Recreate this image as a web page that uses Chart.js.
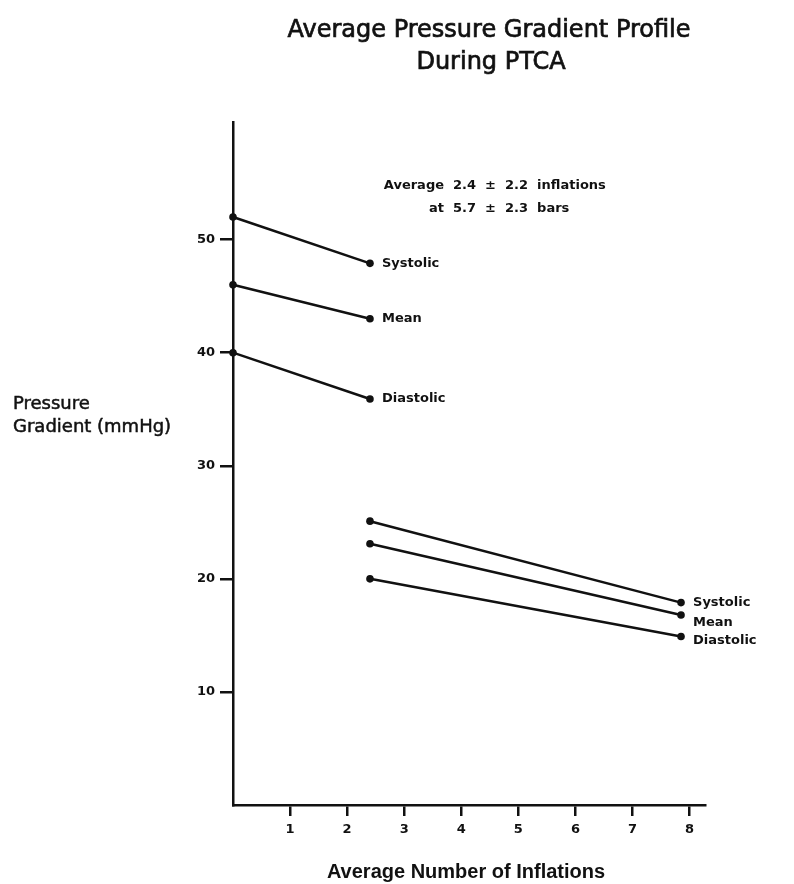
<!DOCTYPE html>
<html>
<head>
<meta charset="utf-8">
<script src="https://cdn.jsdelivr.net/npm/chart.js@4.4.1/dist/chart.umd.min.js"></script>
<style>
html,body{margin:0;padding:0;background:#fff;}
#wrap{width:794px;height:884px;}
</style>
</head>
<body>
<div id="wrap"><canvas id="c" width="794" height="884"></canvas></div>
<script>
// ---- data ----
const seriesNames = ['Systolic', 'Mean', 'Diastolic'];
const xPhase1 = [0, 2.4];
const xPhase2 = [2.4, 7.85];
const systolic1 = [52, 47.9];
const mean1 = [46, 43];
const diastolic1 = [40, 35.9];
const systolic2 = [25.1, 17.9];
const mean2 = [23.1, 16.8];
const diastolic2 = [20, 14.9];
const xTickValues = [1, 2, 3, 4, 5, 6, 7, 8];
const yTickValues = [10, 20, 30, 40, 50];
const titleLines = ['Average Pressure Gradient Profile', 'During PTCA'];
const yTitleLines = ['Pressure', 'Gradient (mmHg)'];
const xTitle = 'Average Number of Inflations';
const noteLeft = ['Average', 'at'];
const noteRight = ['2.4  \u00b1  2.2  inflations', '5.7  \u00b1  2.3  bars'];

const phase1 = [systolic1, mean1, diastolic1];
const phase2 = [systolic2, mean2, diastolic2];

function pts(xs, ys) { return xs.map((x, i) => ({x: x, y: ys[i]})); }

const datasets = [];
phase1.forEach((ys, i) => datasets.push({label: seriesNames[i], data: pts(xPhase1, ys), group: 1}));
phase2.forEach((ys, i) => datasets.push({label: seriesNames[i], data: pts(xPhase2, ys), group: 2}));
datasets.forEach(d => {
  d.borderColor = '#111';
  d.backgroundColor = '#111';
  d.borderWidth = 2.5;
  d.pointRadius = 3.8;
  d.pointBorderWidth = 0;
  d.showLine = true;
  d.tension = 0;
  d.clip = false;
});

const SANS = '"Liberation Sans", Arial, sans-serif';
const WIDE = '"DejaVu Sans", sans-serif';

function heavyText(ctx, s, x, y, w) {
  ctx.lineWidth = w;
  ctx.strokeStyle = '#111';
  ctx.strokeText(s, x, y);
  ctx.fillText(s, x, y);
}

const textPlugin = {
  id: 'texts',
  afterDraw(chart) {
    const ctx = chart.ctx;
    const xs = chart.scales.x, ys = chart.scales.y;
    ctx.save();
    ctx.fillStyle = '#111';
    // Title
    ctx.font = '24px ' + WIDE;
    ctx.textAlign = 'center';
    ctx.textBaseline = 'middle';
    heavyText(ctx, titleLines[0], 489, 31, 0.7);
    heavyText(ctx, titleLines[1], 491, 63, 0.7);
    // y title
    ctx.font = '18px ' + WIDE;
    ctx.textAlign = 'left';
    heavyText(ctx, yTitleLines[0], 13, 404, 0.5);
    heavyText(ctx, yTitleLines[1], 13, 427, 0.5);
    // x title
    ctx.font = 'bold 20px ' + SANS;
    ctx.textAlign = 'center';
    ctx.fillText(xTitle, 466, 872);
    // note
    ctx.font = 'bold 13px ' + WIDE;
    ctx.textAlign = 'right';
    ctx.fillText(noteLeft[0], 444, 186);
    ctx.fillText(noteLeft[1], 444, 209);
    ctx.textAlign = 'left';
    ctx.fillText(noteRight[0], 453, 186);
    ctx.fillText(noteRight[1], 453, 209);
    // series labels
    const offs2 = [0, 8, 4];
    chart.data.datasets.forEach((d, i) => {
      const last = d.data[d.data.length - 1];
      const px = xs.getPixelForValue(last.x) + 12;
      let py = ys.getPixelForValue(last.y);
      if (d.group === 2) py += offs2[i - 3];
      ctx.fillText(d.label, px, py);
    });
    ctx.restore();
  }
};

new Chart(document.getElementById('c'), {
  type: 'scatter',
  data: {datasets: datasets},
  options: {
    responsive: false,
    animation: false,
    events: [],
    layout: {padding: {left: 0, top: 122, right: 89, bottom: 0}},
    plugins: {legend: {display: false}, tooltip: {enabled: false}, title: {display: false}},
    scales: {
      x: {
        type: 'linear', min: 0, max: 8.27,
        afterBuildTicks(s) { s.ticks = xTickValues.map(v => ({value: v})); },
        afterFit(s) { s.height = 79; },
        border: {display: true, color: '#111', width: 2.5},
        grid: {drawOnChartArea: false, drawTicks: true, tickLength: 11, color: '#111', lineWidth: 2.5},
        ticks: {color: '#111', font: {family: WIDE, size: 13, weight: 'bold'}, padding: 6, maxRotation: 0}
      },
      y: {
        type: 'linear', min: 0, max: 60.4,
        afterBuildTicks(s) { s.ticks = yTickValues.map(v => ({value: v})); },
        afterFit(s) { s.width = 233; },
        border: {display: true, color: '#111', width: 2.5},
        grid: {drawOnChartArea: false, drawTicks: true, tickLength: 13, color: '#111', lineWidth: 2.5},
        ticks: {color: '#111', font: {family: WIDE, size: 13, weight: 'bold'}, padding: 5}
      }
    }
  },
  plugins: [textPlugin]
});
</script>
</body>
</html>
